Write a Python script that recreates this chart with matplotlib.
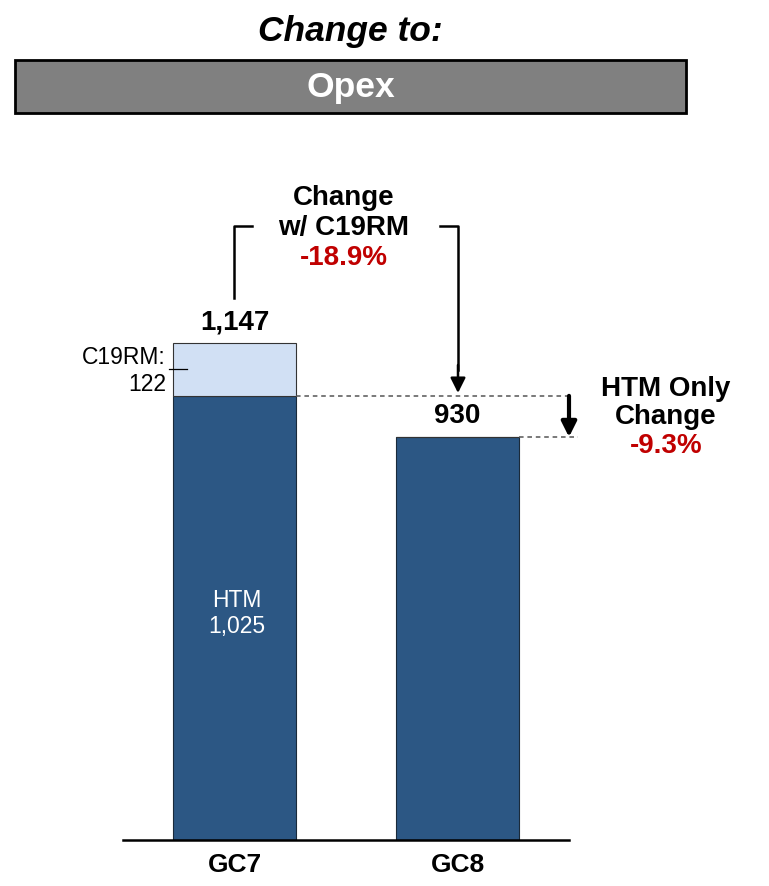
import numpy as np
import matplotlib
matplotlib.use("Agg")
import matplotlib.pyplot as plt
from matplotlib.patches import Rectangle
from matplotlib.lines import Line2D

categories = ["GC7", "GC8"]
htm = [1025, 930]
c19rm = [122, 0]
totals = [1147, 930]
change_all = "-18.9%"
change_htm = "-9.3%"

W, H = 769, 886
DARK = "#2C5784"
LIGHT = "#D1E0F4"
RED = "#C00000"

plt.rcParams['font.family'] = ['Liberation Sans', 'DejaVu Sans']


def fx(px):
    return px / W


def fy(py):
    return 1 - py / H


def main():
    fig = plt.figure(figsize=(W / 100, H / 100), dpi=100)

    # header
    fig.text(fx(350), fy(31), "Change to:", ha="center", va="center",
             fontsize=25.5, fontweight="bold", fontstyle="italic")
    fig.add_artist(Rectangle((fx(15), fy(113)), fx(686) - fx(15), fy(60) - fy(113),
                             transform=fig.transFigure, facecolor="#808080",
                             edgecolor="black", linewidth=2))
    fig.text(fx(351), fy(88), "Opex", ha="center", va="center",
             fontsize=25.5, fontweight="bold", color="white")

    # bar axes: baseline at y=840px, x from 123 to 569px
    ax = fig.add_axes([fx(123), fy(840), fx(569) - fx(123), fy(130) - fy(840)])
    scale = 0.4333  # px per unit
    ax.set_ylim(0, 710 / scale)
    ax.set_xlim(-0.5, 1.5)
    x = np.arange(len(categories))
    bw = 0.556
    ax.bar(x, htm, width=bw, color=DARK, edgecolor="#1a2a3a", linewidth=0.8)
    ax.bar(x, c19rm, bottom=htm, width=bw, color=LIGHT, edgecolor="#333333", linewidth=0.8)

    for s in ["top", "left", "right"]:
        ax.spines[s].set_visible(False)
    ax.spines["bottom"].set_linewidth(1.8)
    ax.set_yticks([])
    ax.set_xticks(x)
    ax.set_xticklabels(categories, fontsize=19, fontweight="bold")
    ax.tick_params(axis="x", length=0, pad=9)

    # totals
    for i in range(len(categories)):
        ax.text(x[i], totals[i] + 48, "{:,}".format(totals[i]), ha="center", va="center",
                fontsize=20, fontweight="bold")

    # inside labels
    ax.text(x[0] + 0.01, htm[0] * 0.51, "HTM\n{:,}".format(htm[0]), ha="center", va="center",
            fontsize=16.5, color="white", linespacing=1.2)
    ax.text(x[0] - bw / 2 - 0.03, htm[0] + c19rm[0] / 2 - 3, "C19RM:\n{}".format(c19rm[0]),
            ha="right", va="center", fontsize=16.5, linespacing=1.22)
    ax.plot([x[0] - bw / 2 - 0.015, x[0] - bw / 2 + 0.065],
            [htm[0] + c19rm[0] / 2] * 2, color="black", lw=0.9, clip_on=False)

    # dashed reference lines
    ax.plot([x[0] + bw / 2, 1.513], [htm[0], htm[0]], ls=(0, (3, 2.5)),
            color="#555555", lw=1.1, clip_on=False)
    ax.plot([x[1] + bw / 2, 1.54], [htm[1], htm[1]], ls=(0, (3, 2.5)),
            color="#555555", lw=1.1, clip_on=False)

    # HTM only arrow
    ax.annotate("", xy=(1.5, htm[1]), xytext=(1.5, htm[0]),
                arrowprops=dict(arrowstyle="-|>,head_width=0.45,head_length=0.9",
                                lw=3, color="black", shrinkA=0, shrinkB=0),
                annotation_clip=False)
    fig.text(fx(666), fy(389), "HTM Only", ha="center", va="center",
             fontsize=20, fontweight="bold")
    fig.text(fx(666), fy(417), "Change", ha="center", va="center",
             fontsize=20, fontweight="bold")
    fig.text(fx(666), fy(446), change_htm, ha="center", va="center",
             fontsize=20, fontweight="bold", color=RED)

    # bracket change w/ C19RM
    fig.add_artist(Line2D([fx(234), fx(234), fx(252)], [fy(298), fy(226), fy(226)],
                          color="black", lw=1.8))
    fig.add_artist(Line2D([fx(440), fx(458), fx(458)], [fy(226), fy(226), fy(370)],
                          color="black", lw=1.8))
    ax.annotate("", xy=(fx(458), fy(393)), xytext=(fx(458), fy(365)),
                xycoords="figure fraction", textcoords="figure fraction",
                arrowprops=dict(arrowstyle="-|>,head_width=0.45,head_length=0.9",
                                lw=1.8, color="black", shrinkA=0, shrinkB=0),
                annotation_clip=False)
    fig.text(fx(344), fy(198), "Change", ha="center", va="center",
             fontsize=20, fontweight="bold")
    fig.text(fx(344), fy(228), "w/ C19RM", ha="center", va="center",
             fontsize=20, fontweight="bold")
    fig.text(fx(344), fy(258), change_all, ha="center", va="center",
             fontsize=20, fontweight="bold", color=RED)

    fig.savefig("out.png", dpi=100)


if __name__ == "__main__":
    main()
